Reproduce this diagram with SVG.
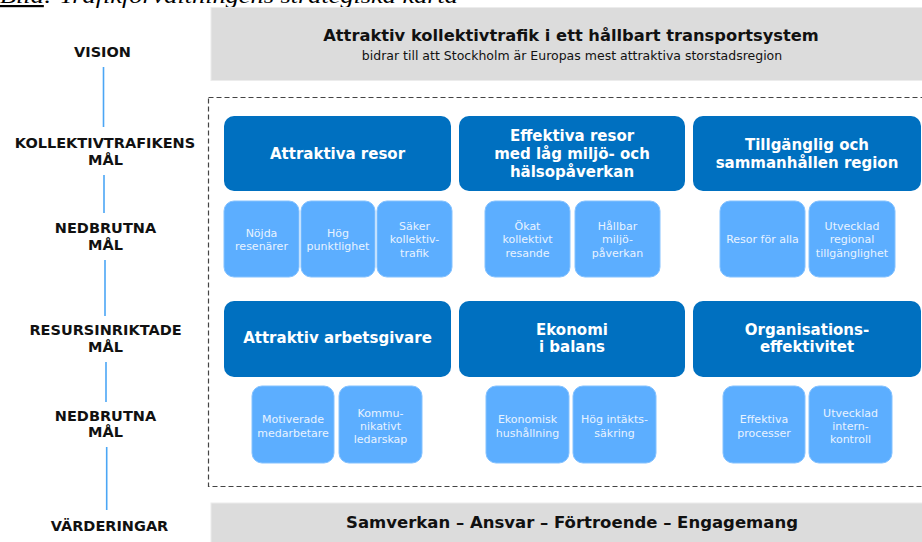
<svg xmlns="http://www.w3.org/2000/svg" width="922" height="542" viewBox="0 0 922 542">
  <style>
    .cap { font-family: "Liberation Serif", "DejaVu Serif", serif; font-style: italic; font-size: 22px; fill: #000; }
    .lbl { font-family: "DejaVu Sans", Verdana, sans-serif; font-weight: bold; font-size: 14.5px; fill: #111; text-anchor: middle; }
    .band { fill: #dcdcdc; stroke: #ececec; stroke-width: 1; }
    .bandT { font-family: "DejaVu Sans", Verdana, sans-serif; font-weight: bold; font-size: 16.3px; fill: #111; text-anchor: middle; }
    .bandS { font-family: "DejaVu Sans", Verdana, sans-serif; font-size: 12.5px; fill: #111; text-anchor: middle; }
    .goal { fill: #0070c0; }
    .goalT { font-family: "DejaVu Sans", Verdana, sans-serif; font-weight: bold; font-size: 15px; fill: #fff; text-anchor: middle; }
    .sub { fill: #5caeff; stroke: #84c2ff; stroke-width: 1; }
    .subT { font-family: "DejaVu Sans", Verdana, sans-serif; font-size: 11px; fill: #e8f3ff; text-anchor: middle; }
    .frame { fill: none; stroke: #444; stroke-width: 1.2; stroke-dasharray: 5 3; }
    .link { stroke: #4ba6f5; stroke-width: 1.6; fill: none; }
  </style>

  <rect width="922" height="542" fill="#fff"/>

  <!-- caption, mostly above the top edge -->
  <text class="cap" x="0" y="3" textLength="458" lengthAdjust="spacingAndGlyphs"><tspan text-decoration="underline">Bild</tspan>: Trafikförvaltningens strategiska karta</text>

  <!-- level labels -->
  <g id="levels">
    <text class="lbl" x="102.5" y="57">VISION</text>
    <text class="lbl" x="105" y="148">KOLLEKTIVTRAFIKENS</text>
    <text class="lbl" x="105.5" y="165">MÅL</text>
    <text class="lbl" x="105.5" y="233">NEDBRUTNA</text>
    <text class="lbl" x="105.5" y="250">MÅL</text>
    <text class="lbl" x="105.5" y="335">RESURSINRIKTADE</text>
    <text class="lbl" x="105.5" y="352">MÅL</text>
    <text class="lbl" x="105.5" y="421">NEDBRUTNA</text>
    <text class="lbl" x="105.5" y="437">MÅL</text>
    <text class="lbl" x="109.5" y="531">VÄRDERINGAR</text>
  </g>

  <g id="connectors">
    <line class="link" x1="103.5" y1="67" x2="103.5" y2="127"/>
    <line class="link" x1="104" y1="175" x2="104" y2="213"/>
    <line class="link" x1="105" y1="260" x2="105" y2="316"/>
    <line class="link" x1="106" y1="362" x2="106" y2="402"/>
    <line class="link" x1="106.7" y1="447" x2="106.7" y2="510"/>
  </g>

  <!-- vision band -->
  <g id="vision">
    <rect class="band" x="211" y="7.5" width="720" height="73"/>
    <text class="bandT" x="571" y="41">Attraktiv kollektivtrafik i ett hållbart transportsystem</text>
    <text class="bandS" x="572" y="60">bidrar till att Stockholm är Europas mest attraktiva storstadsregion</text>
  </g>

  <!-- dashed frame around the goals -->
  <rect class="frame" x="208.5" y="97.5" width="730" height="389"/>

  <!-- traffic goals -->
  <g id="goal-attraktiva-resor">
    <rect class="goal" x="224" y="116" width="227" height="75" rx="10"/>
    <text class="goalT" x="337.5" y="159">Attraktiva resor</text>
  </g>
  <g id="goal-effektiva-resor">
    <rect class="goal" x="459" y="116" width="226" height="75" rx="10"/>
    <text class="goalT" x="572" y="141">Effektiva resor</text>
    <text class="goalT" x="572" y="159">med låg miljö- och</text>
    <text class="goalT" x="572" y="177">hälsopåverkan</text>
  </g>
  <g id="goal-tillganglig">
    <rect class="goal" x="693" y="116" width="228" height="75" rx="10"/>
    <text class="goalT" x="807" y="150">Tillgänglig och</text>
    <text class="goalT" x="807" y="168">sammanhållen region</text>
  </g>

  <!-- broken-down traffic goals -->
  <g id="sub-nojda">
    <rect class="sub" x="224" y="201" width="75" height="76" rx="10"/>
    <text class="subT" x="261.5" y="237">Nöjda</text>
    <text class="subT" x="261.5" y="250">resenärer</text>
  </g>
  <g id="sub-punktlighet">
    <rect class="sub" x="301" y="201" width="74" height="76" rx="10"/>
    <text class="subT" x="338" y="237">Hög</text>
    <text class="subT" x="338" y="250">punktlighet</text>
  </g>
  <g id="sub-saker">
    <rect class="sub" x="377" y="201" width="75" height="76" rx="10"/>
    <text class="subT" x="414.5" y="229.5">Säker</text>
    <text class="subT" x="414.5" y="243">kollektiv-</text>
    <text class="subT" x="414.5" y="256.5">trafik</text>
  </g>
  <g id="sub-okat">
    <rect class="sub" x="485" y="201" width="85" height="76" rx="10"/>
    <text class="subT" x="527.5" y="229.5">Ökat</text>
    <text class="subT" x="527.5" y="243">kollektivt</text>
    <text class="subT" x="527.5" y="256.5">resande</text>
  </g>
  <g id="sub-hallbar">
    <rect class="sub" x="575" y="201" width="85" height="76" rx="10"/>
    <text class="subT" x="617.5" y="229.5">Hållbar</text>
    <text class="subT" x="617.5" y="243">miljö-</text>
    <text class="subT" x="617.5" y="256.5">påverkan</text>
  </g>
  <g id="sub-resor-alla">
    <rect class="sub" x="720" y="201" width="85" height="76" rx="10"/>
    <text class="subT" x="762.5" y="243">Resor för alla</text>
  </g>
  <g id="sub-regional">
    <rect class="sub" x="809" y="201" width="86" height="76" rx="10"/>
    <text class="subT" x="852" y="229.5">Utvecklad</text>
    <text class="subT" x="852" y="243">regional</text>
    <text class="subT" x="852" y="256.5">tillgänglighet</text>
  </g>

  <!-- resource goals -->
  <g id="goal-arbetsgivare">
    <rect class="goal" x="224" y="301" width="227" height="76" rx="10"/>
    <text class="goalT" x="337.5" y="343">Attraktiv arbetsgivare</text>
  </g>
  <g id="goal-ekonomi">
    <rect class="goal" x="459" y="301" width="226" height="76" rx="10"/>
    <text class="goalT" x="572" y="335">Ekonomi</text>
    <text class="goalT" x="572" y="352">i balans</text>
  </g>
  <g id="goal-organisation">
    <rect class="goal" x="693" y="301" width="228" height="76" rx="10"/>
    <text class="goalT" x="807" y="335">Organisations-</text>
    <text class="goalT" x="807" y="352">effektivitet</text>
  </g>

  <!-- broken-down resource goals -->
  <g id="sub-motiverade">
    <rect class="sub" x="252" y="386" width="82" height="77" rx="10"/>
    <text class="subT" x="293" y="423">Motiverade</text>
    <text class="subT" x="293" y="437">medarbetare</text>
  </g>
  <g id="sub-ledarskap">
    <rect class="sub" x="339" y="386" width="83" height="77" rx="10"/>
    <text class="subT" x="380.5" y="417">Kommu-</text>
    <text class="subT" x="380.5" y="430">nikativt</text>
    <text class="subT" x="380.5" y="443">ledarskap</text>
  </g>
  <g id="sub-hushallning">
    <rect class="sub" x="486" y="386" width="83" height="77" rx="10"/>
    <text class="subT" x="527.5" y="423">Ekonomisk</text>
    <text class="subT" x="527.5" y="437">hushållning</text>
  </g>
  <g id="sub-intakt">
    <rect class="sub" x="573" y="386" width="83" height="77" rx="10"/>
    <text class="subT" x="614.5" y="423">Hög intäkts-</text>
    <text class="subT" x="614.5" y="437">säkring</text>
  </g>
  <g id="sub-processer">
    <rect class="sub" x="723" y="386" width="82" height="77" rx="10"/>
    <text class="subT" x="764" y="423">Effektiva</text>
    <text class="subT" x="764" y="437">processer</text>
  </g>
  <g id="sub-internkontroll">
    <rect class="sub" x="809" y="386" width="83" height="77" rx="10"/>
    <text class="subT" x="850.5" y="417">Utvecklad</text>
    <text class="subT" x="850.5" y="430">intern-</text>
    <text class="subT" x="850.5" y="443">kontroll</text>
  </g>

  <!-- values band -->
  <g id="values">
    <rect class="band" x="211" y="503" width="720" height="45"/>
    <text class="bandT" x="572" y="528" style="font-size:16.5px">Samverkan – Ansvar – Förtroende – Engagemang</text>
  </g>
</svg>
